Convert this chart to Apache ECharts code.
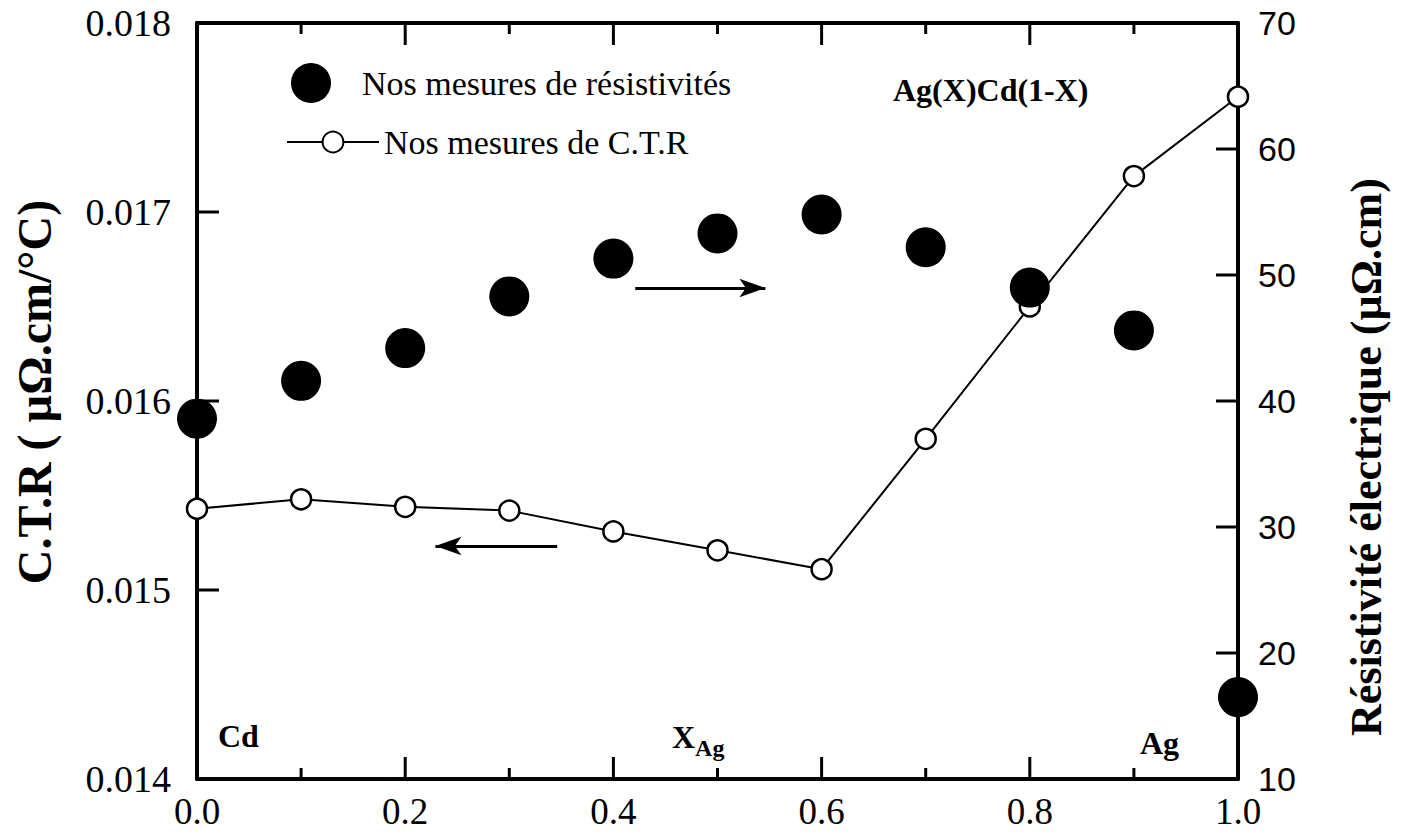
<!DOCTYPE html>
<html><head><meta charset="utf-8">
<script src="https://cdn.jsdelivr.net/npm/echarts@6/dist/echarts.min.js"></script>
<style>html,body{margin:0;padding:0;background:#fff}#c{width:1406px;height:839px}</style>
</head><body><div id="c"></div>
<script>
const xValues = [0.0, 0.1, 0.2, 0.3, 0.4, 0.5, 0.6, 0.7, 0.8, 0.9, 1.0];
const resistivity = [38.6, 41.6, 44.2, 48.3, 51.3, 53.3, 54.8, 52.2, 49.0, 45.6, 16.5];
const ctr = [0.01543, 0.01548, 0.01544, 0.01542, 0.01531, 0.01521, 0.01511, 0.01580, 0.01650, 0.01719, 0.01761];
const xTicks = [0.0, 0.2, 0.4, 0.6, 0.8, 1.0];
const xMinorTicks = [0.1, 0.3, 0.5, 0.7, 0.9];
const leftTickValues = [0.015, 0.016, 0.017];
const rightTickValues = [20, 30, 40, 50, 60];
const arrowLeft = [[0.346, 0.015233], [0.229, 0.015233]];
const arrowRight = [[0.421, 48.97], [0.546, 48.97]];

const SERIF = '"Liberation Serif", "Times New Roman", serif';
const SANS = '"Liberation Sans", Arial, sans-serif';
const mkLine = () => ({show: true, onZero: false, lineStyle: {color: '#000', width: 4}});
const tickLine = (x1, y1, x2, y2) => ({type: 'line', shape: {x1, y1, x2, y2},
  style: {stroke: '#000', lineWidth: 3}});

const chart = echarts.init(document.getElementById('c'), null, {renderer: 'svg'});
chart.setOption({
  animation: false,
  backgroundColor: '#fff',
  grid: {left: 197, right: 168, top: 23, bottom: 60},
  legend: [
    {data: ['Nos mesures de résistivités'], left: 286, top: 58, orient: 'vertical',
     itemWidth: 92, itemHeight: 40, itemGap: 0,
     textStyle: {fontFamily: SERIF, fontSize: 34, color: '#000'}},
    {data: ['Nos mesures de C.T.R'], left: 281, top: 120, orient: 'vertical',
     itemWidth: 92, itemHeight: 26, itemGap: 0,
     textStyle: {fontFamily: SERIF, fontSize: 34, color: '#000'}}
  ],
  xAxis: [
    {type: 'value', min: 0, max: 1, interval: 0.2, position: 'bottom',
     axisLine: mkLine(), splitLine: {show: false}, axisTick: {show: false},
     axisLabel: {margin: 14, fontFamily: SERIF, fontSize: 37, color: '#000',
       formatter: v => xTicks.some(t => Math.abs(t - v) < 1e-9) ? v.toFixed(1) : ''}},
    {type: 'value', min: 0, max: 1, interval: 0.2, position: 'top',
     axisLine: mkLine(), splitLine: {show: false}, axisTick: {show: false},
     axisLabel: {show: false}}
  ],
  yAxis: [
    {type: 'value', min: 0.014, max: 0.018, interval: 0.001, position: 'left',
     axisLine: mkLine(), splitLine: {show: false}, axisTick: {show: false},
     axisLabel: {margin: 26, fontFamily: SERIF, fontSize: 38, color: '#000',
       formatter: v => v.toFixed(3)}},
    {type: 'value', min: 10, max: 70, interval: 10, position: 'right',
     axisLine: mkLine(), splitLine: {show: false}, axisTick: {show: false},
     axisLabel: {margin: 20, fontFamily: SANS, fontSize: 34, color: '#000',
       formatter: v => String(Math.round(v))}}
  ],
  series: [
    {name: 'Nos mesures de C.T.R', type: 'line', xAxisIndex: 0, yAxisIndex: 0,
     data: xValues.map((x, i) => [x, ctr[i]]),
     symbol: 'circle', symbolSize: 20, z: 3,
     lineStyle: {color: '#000', width: 2},
     itemStyle: {color: '#fff', borderColor: '#000', borderWidth: 2.5},
     markLine: {silent: true, symbol: ['none', 'arrow'], symbolSize: [14, 26],
       lineStyle: {color: '#000', width: 3, type: 'solid'}, label: {show: false},
       data: [[{coord: arrowLeft[0]}, {coord: arrowLeft[1]}]]}},
    {name: 'Nos mesures de résistivités', type: 'scatter', xAxisIndex: 0, yAxisIndex: 1,
     data: xValues.map((x, i) => [x, resistivity[i]]),
     symbol: 'circle', symbolSize: 40, z: 4,
     itemStyle: {color: '#000', opacity: 1},
     markLine: {silent: true, symbol: ['none', 'arrow'], symbolSize: [14, 26],
       lineStyle: {color: '#000', width: 3, type: 'solid'}, label: {show: false},
       data: [[{coord: arrowRight[0]}, {coord: arrowRight[1]}]]}},
    {name: 'xTicks', type: 'custom', xAxisIndex: 0, yAxisIndex: 0, clip: false, silent: true, z: 2,
     data: xTicks.map(v => [v, 22]).concat(xMinorTicks.map(v => [v, 11])),
     renderItem: (params, api) => {
       const len = api.value(1);
       const b = api.coord([api.value(0), 0.014]);
       const t = api.coord([api.value(0), 0.018]);
       return {type: 'group', children: [
         tickLine(b[0], b[1], b[0], b[1] - len),
         tickLine(t[0], t[1], t[0], t[1] + len)]};
     }},
    {name: 'leftTicks', type: 'custom', xAxisIndex: 0, yAxisIndex: 0, clip: false, silent: true, z: 2,
     data: leftTickValues.map(v => [0, v]),
     renderItem: (params, api) => {
       const p = api.coord([0, api.value(1)]);
       return tickLine(p[0], p[1], p[0] + 22, p[1]);
     }},
    {name: 'rightTicks', type: 'custom', xAxisIndex: 0, yAxisIndex: 1, clip: false, silent: true, z: 2,
     data: rightTickValues.map(v => [1, v]),
     renderItem: (params, api) => {
       const p = api.coord([1, api.value(1)]);
       return tickLine(p[0], p[1], p[0] - 22, p[1]);
     }}
  ],
  graphic: [
    {type: 'text', rotation: Math.PI / 2, position: [34, 392],
     style: {text: 'C.T.R ( µΩ.cm/°C)', font: 'bold 48px ' + SERIF, fill: '#000',
       align: 'center', verticalAlign: 'middle'}},
    {type: 'text', rotation: Math.PI / 2, position: [1366, 457],
     style: {text: 'Résistivité électrique (µΩ.cm)', font: 'bold 44px ' + SERIF, fill: '#000',
       align: 'center', verticalAlign: 'middle'}},
    {type: 'text', position: [893, 90],
     style: {text: 'Ag(X)Cd(1-X)', font: 'bold 32px ' + SERIF, fill: '#000', verticalAlign: 'middle'}},
    {type: 'text', position: [218, 736],
     style: {text: 'Cd', font: 'bold 32px ' + SERIF, fill: '#000', verticalAlign: 'middle'}},
    {type: 'text', position: [672, 737],
     style: {text: '{a|X}{b|Ag}', fill: '#000', verticalAlign: 'middle',
       rich: {a: {font: 'bold 32px ' + SERIF}, b: {font: 'bold 24px ' + SERIF, padding: [22, 0, 0, 0]}}}},
    {type: 'text', position: [1140, 743],
     style: {text: 'Ag', font: 'bold 32px ' + SERIF, fill: '#000', verticalAlign: 'middle'}}
  ]
});
</script></body></html>
